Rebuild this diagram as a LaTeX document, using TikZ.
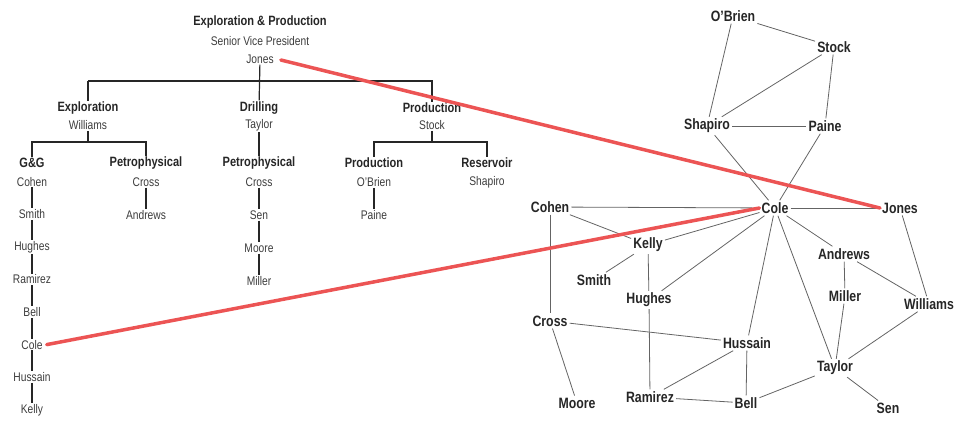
\documentclass[tikz,border=0pt]{standalone}
\usepackage{fontspec}
\setmainfont{Liberation Sans}[FakeStretch=0.82]
\usetikzlibrary{positioning}
\definecolor{Link_red}{RGB}{236, 84, 84}
\definecolor{Edge_grey}{RGB}{100, 100, 100}
\definecolor{Name_grey}{RGB}{60, 60, 60}
\tikzset{
    orghead/.style={font=\fontsize{13.5}{14}\selectfont\bfseries, text=black!85, inner sep=1pt},
    staff/.style={font=\fontsize{12.5}{13}\selectfont, text=Name_grey, inner sep=1pt},
    person/.style={font=\fontsize{15}{16}\selectfont\bfseries, text=black!85, inner sep=2pt},
    orgline/.style={line width=1.2pt, black!85},
    tie/.style={line width=0.8pt, Edge_grey},
    crosslink/.style={line width=3.5pt, Link_red, line cap=round}
}
\begin{document}
\begin{tikzpicture}[x=1pt,y=-1pt]
    \useasboundingbox (0,0) rectangle (960,428);

    %% Org chart
    \node[orghead] (ep) at (260,22) {Exploration \& Production};
    \node[staff] (svp) at (260,41) {Senior Vice President};
    \node[staff] (jonesA) at (260,59) {Jones};

    \node[orghead] (expl) at (88,108) {Exploration};
    \node[staff] (williamsA) at (88,125) {Williams};
    \node[orghead] (drill) at (259,108) {Drilling};
    \node[staff] (taylorA) at (259,125) {Taylor};
    \node[orghead] (prod) at (432,108) {Production};
    \node[staff] (stockA) at (432,125) {Stock};

    \node[orghead] (gg) at (32,163) {G\&G};
    \node[orghead] (petA) at (146,163) {Petrophysical};
    \node[orghead] (petB) at (259,163) {Petrophysical};
    \node[orghead] (prodB) at (374,163) {Production};
    \node[orghead] (res) at (487,163) {Reservoir};
    \node[staff] at (487,182) {Shapiro};

    % chains
    \foreach \n [count=\i] in {Cohen,Smith,Hughes,Ramirez,Bell,Cole,Hussain,Kelly}
        \node[staff] (g\i) at (32,149+\i*32.6) {\n};
    \foreach \i [evaluate=\i as \j using int(\i+1)] in {1,...,7}
        \draw[orgline] (g\i) -- (g\j);
    \foreach \n [count=\i] in {Cross,Andrews}
        \node[staff] (p\i) at (146,149+\i*33) {\n};
    \draw[orgline] (p1) -- (p2);
    \foreach \n [count=\i] in {Cross,Sen,Moore,Miller}
        \node[staff] (d\i) at (259,149+\i*33) {\n};
    \foreach \i [evaluate=\i as \j using int(\i+1)] in {1,...,3}
        \draw[orgline] (d\i) -- (d\j);
    \foreach \n [count=\i] in {O'Brien,Paine}
        \node[staff] (o\i) at (374,149+\i*33) {\n};
    \draw[orgline] (o1) -- (o2);

    % brackets
    \draw[orgline] (jonesA) -- (drill);
    \draw[orgline] (expl.north |- 0,81) -- (expl.north) (expl.north |- 0,81) -- (prod.north |- 0,81) -- (prod.north);
    \draw[orgline] (williamsA) -- (williamsA |- 0,142);
    \draw[orgline] (gg.north) -- (gg.north |- 0,142) -- (petA.north |- 0,142) -- (petA.north);
    \draw[orgline] (taylorA) -- (petB);
    \draw[orgline] (stockA) -- (stockA |- 0,142);
    \draw[orgline] (prodB.north) -- (prodB.north |- 0,142) -- (res.north |- 0,142) -- (res.north);

    %% Network
    \node[person] (obrien) at (733,16) {O'Brien};
    \node[person] (stock) at (834,47) {Stock};
    \node[person] (shapiro) at (707,126) {Shapiro};
    \node[person] (paine) at (825,126) {Paine};
    \node[person] (cole) at (775,208) {Cole};
    \node[person] (jones) at (900,208) {Jones};
    \node[person] (cohen) at (550,207) {Cohen};
    \node[person] (kelly) at (648,245) {Kelly};
    \node[person] (smith) at (594,280) {Smith};
    \node[person] (hughes) at (649,300) {Hughes};
    \node[person] (andrews) at (844,254) {Andrews};
    \node[person] (miller) at (845,296) {Miller};
    \node[person] (williams) at (929,304) {Williams};
    \node[person] (cross) at (550,321) {Cross};
    \node[person] (hussain) at (747,343) {Hussain};
    \node[person] (taylor) at (835,368) {Taylor};
    \node[person] (moore) at (577,403) {Moore};
    \node[person] (ramirez) at (650,397) {Ramirez};
    \node[person] (bell) at (746,403) {Bell};
    \node[person] (sen) at (888,408) {Sen};

    \foreach \a/\b in {obrien/stock, obrien/shapiro, stock/shapiro, stock/paine,
        shapiro/paine, shapiro/cole, paine/cole, cole/cohen, cole/jones, cole/kelly,
        cole/hughes, cole/hussain, cole/taylor, cole/andrews, cohen/kelly, cohen/cross,
        kelly/smith, kelly/hughes, hughes/ramirez, cross/hussain, cross/moore,
        hussain/ramirez, hussain/bell, ramirez/bell, bell/taylor, taylor/sen,
        taylor/miller, taylor/williams, andrews/miller, andrews/williams, jones/williams}
        \draw[tie] (\a) -- (\b);

    %% Cross links
    \draw[crosslink] (jonesA.east) ++(6,1) -- (jones.west);
    \draw[crosslink] (g6.east) ++(3,0) -- (cole.west);
\end{tikzpicture}
\end{document}
